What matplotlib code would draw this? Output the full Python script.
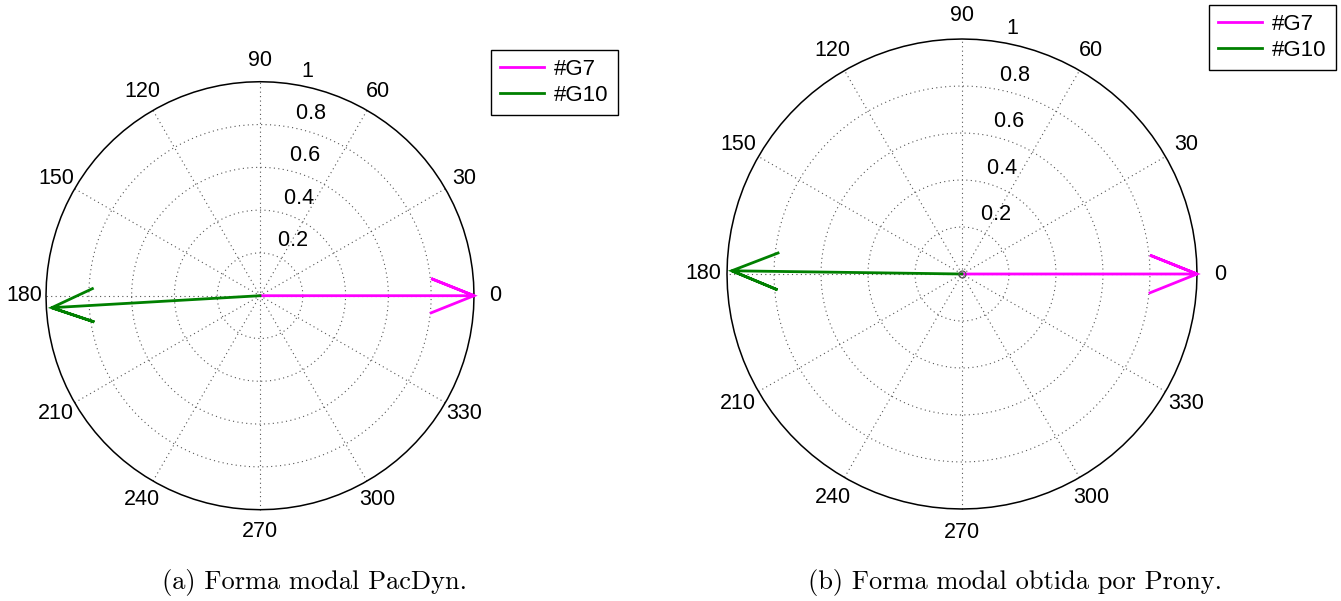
import numpy as np
import matplotlib
matplotlib.use("Agg")
import matplotlib.pyplot as plt

# Modal shape phasors (magnitude, angle in degrees) for each generator
series_names = ["#G7", "#G10"]
series_colors = ["#ff00ff", "#008000"]

pacdyn_mag = [1.0, 0.975]
pacdyn_ang = [0.0, 183.3]

prony_mag = [1.0, 0.98]
prony_ang = [0.0, 179.2]

ring_values = [0.2, 0.4, 0.6, 0.8]
angle_ticks = [0, 30, 60, 90, 120, 150, 180, 210, 240, 270, 300, 330]

captions = ["(a) Forma modal PacDyn.", "(b) Forma modal obtida por Prony."]

W, H = 1341, 601
DPI = 100
fig = plt.figure(figsize=(W / DPI, H / DPI), dpi=DPI)

TICK_FONT = "Liberation Sans"
FS = 15.5
LEG_FS = 16
GRID_COLOR = "#555555"


def compass_axes(cx, cy, radius_px, lim=1.2):
    """Axes whose data origin sits at pixel (cx, cy from top) with radius_px per unit."""
    half = lim * radius_px
    ax = fig.add_axes([(cx - half) / W, (H - cy - half) / H, 2 * half / W, 2 * half / H])
    ax.set_xlim(-lim, lim)
    ax.set_ylim(-lim, lim)
    ax.axis("off")
    return ax


def draw_compass(ax, mags, angs, rmax=1.0, center_marker=False):
    t = np.linspace(0, 2 * np.pi, 101)
    # dotted spokes every 30 degrees
    for th in np.deg2rad(np.arange(30, 181, 30)):
        ax.plot([-rmax * np.cos(th), rmax * np.cos(th)],
                [-rmax * np.sin(th), rmax * np.sin(th)],
                ls=(0, (1, 3)), color=GRID_COLOR, lw=0.8, zorder=1)
    # dotted rings with radial labels
    for r in ring_values:
        ax.plot(r * np.cos(t), r * np.sin(t), ls=(0, (1, 3)),
                color=GRID_COLOR, lw=0.8, zorder=1)
    rinc = ring_values[0]
    for r in ring_values + [rmax]:
        rr = r + rinc / 20
        lab = "%g" % r
        ax.text(rr * np.cos(np.deg2rad(82)), rr * np.sin(np.deg2rad(82)),
                "  " + lab, ha="left", va="bottom", fontsize=FS,
                family=TICK_FONT, zorder=3)
    # solid outer circle
    ax.plot(rmax * np.cos(t), rmax * np.sin(t), "-", color="black", lw=1.1, zorder=2)
    # angle labels
    for a in angle_ticks:
        ar = np.deg2rad(a)
        ax.text(1.1 * rmax * np.cos(ar), 1.1 * rmax * np.sin(ar), str(a),
                ha="center", va="center", fontsize=FS, family=TICK_FONT)
    # arrows: shaft plus two barbs
    handles = []
    for m, a, name, col in zip(mags, angs, series_names, series_colors):
        z = m * np.exp(1j * np.deg2rad(a))
        shape = np.array([0, 1, 0.8 + 0.08j, 1, 0.8 - 0.08j]) * z
        h, = ax.plot(shape.real, shape.imag, color=col, lw=2.0,
                     solid_joinstyle="miter", label=name, zorder=4)
        handles.append(h)
    if center_marker:
        ax.plot([0], [0], "o", ms=5, mfc="none", mec="#555555", mew=0.9, zorder=5)
    return handles


def add_legend(ax, handles, x0, y0):
    leg = ax.legend(handles=handles, loc="upper left",
                    bbox_to_anchor=(x0 / W, 1 - y0 / H),
                    bbox_transform=fig.transFigure,
                    prop={"family": TICK_FONT, "size": LEG_FS},
                    frameon=True, fancybox=False, shadow=False,
                    borderpad=0.4, labelspacing=0.24, handlelength=2.0,
                    handletextpad=0.45, borderaxespad=0.0)
    fr = leg.get_frame()
    fr.set_edgecolor("black")
    fr.set_linewidth(1.0)
    fr.set_alpha(1)
    return leg


ax1 = compass_axes(260, 295.7, 214)
h1 = draw_compass(ax1, pacdyn_mag, pacdyn_ang)
add_legend(ax1, h1, 491, 50)

ax2 = compass_axes(962, 274, 235)
h2 = draw_compass(ax2, prony_mag, prony_ang, center_marker=True)
add_legend(ax2, h2, 1209, 5)

fig.text(315 / W, 1 - 583 / H, captions[0], ha="center", va="center",
         fontsize=19, family="cmr10")
fig.text(1015 / W, 1 - 583 / H, captions[1], ha="center", va="center",
         fontsize=19, family="cmr10")

fig.savefig("out.png", dpi=DPI)
